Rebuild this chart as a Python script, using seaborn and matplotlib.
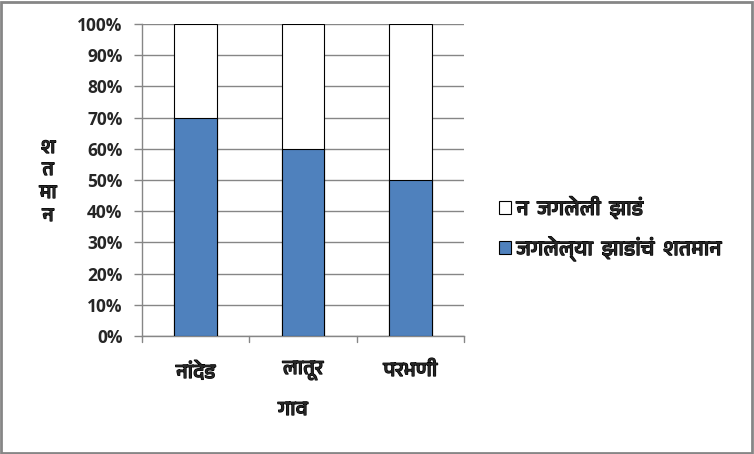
import matplotlib
matplotlib.use("Agg")
import matplotlib.pyplot as plt
import seaborn as sns
import pandas as pd
from matplotlib import font_manager
from matplotlib.patches import Rectangle
import matplotlib.patheffects as pe

# ---- data ----
villages = ["नांदेड", "लातूर", "परभणी"]
survived_pct = [70, 60, 50]
not_survived_pct = [30, 40, 50]
legend_survived = "जगलेल्या  झाडांचं  शतमान"
legend_not = "न  जगलेली  झाडं"
x_title = "गाव"
y_title_chars = ["श", "त", "मा", "न"]
y_ticks = [0, 10, 20, 30, 40, 50, 60, 70, 80, 90, 100]

# ---- find a font with Devanagari glyphs ----
deva_family = None
try:
    from fontTools.ttLib import TTFont
    cands = []
    for f in font_manager.findSystemFonts():
        try:
            tt = TTFont(f, fontNumber=0, lazy=True)
            cmap = tt.getBestCmap() or {}
            if 0x0928 in cmap and 0x091C in cmap:
                name = font_manager.FontProperties(fname=f).get_name()
                cands.append((("Devanagari" not in name), name))
        except Exception:
            pass
    if cands:
        cands.sort()
        deva_family = cands[0][1]
except Exception:
    pass

sns.set_theme(style="white")
fams = ([deva_family] if deva_family else []) + ["DejaVu Sans"]
plt.rcParams["font.family"] = fams
bold_fx = [pe.withStroke(linewidth=0.9, foreground="black")]

df = pd.DataFrame({"village": villages, "survived": survived_pct,
                   "total": [s + n for s, n in zip(survived_pct, not_survived_pct)]})

fig = plt.figure(figsize=(7.54, 4.54), dpi=100)
ax = fig.add_axes([142 / 754, 1 - 336 / 454, (464 - 142) / 754, (336 - 24) / 454])

sns.barplot(data=df, x="village", y="total", color="white", edgecolor="black",
            linewidth=0.8, width=0.4, ax=ax, zorder=3)
sns.barplot(data=df, x="village", y="survived", color="#4F81BD", edgecolor="black",
            linewidth=0.8, width=0.4, ax=ax, zorder=4, saturation=1)

ax.set_ylim(0, 100)
ax.set_xlim(-0.5, 2.5)
ax.set_yticks(y_ticks)
ax.set_yticklabels([f"{t}%" for t in y_ticks], fontsize=12.5, fontweight="bold",
                   family=["Open Sans", "DejaVu Sans"])
ax.set_xticks([0, 1, 2])
ax.set_xticklabels(villages, fontsize=14.5)
for t in ax.get_xticklabels():
    t.set_path_effects(bold_fx)
ax.tick_params(axis="x", length=0, pad=18)
ax.tick_params(axis="y", length=6, color="#868686", width=1, direction="out", left=True, pad=8)
for b in [-0.5, 0.5, 1.5, 2.5]:
    ax.plot([b, b], [0, -2], color="#868686", lw=1, clip_on=False, transform=ax.transData)
ax.grid(axis="y", color="#868686", lw=1, zorder=0)
ax.set_axisbelow(True)
for s in ["top", "right"]:
    ax.spines[s].set_visible(False)
for s in ["left", "bottom"]:
    ax.spines[s].set_color("#868686")
    ax.spines[s].set_linewidth(1)

ax.set_xlabel("")
ax.set_ylabel("")
fig.text(293 / 754, 1 - 410 / 454, x_title, ha="center", va="center", fontsize=14.5,
         path_effects=bold_fx)
for ch, yp in zip(y_title_chars, [148, 170, 193, 216]):
    fig.text(48 / 754, 1 - yp / 454, ch, ha="center", va="center", fontsize=14,
             path_effects=bold_fx)

# legend
handles = [Rectangle((0, 0), 1, 1, facecolor="white", edgecolor="black", lw=0.8),
           Rectangle((0, 0), 1, 1, facecolor="#4F81BD", edgecolor="black", lw=0.8)]
leg = fig.legend(handles, [legend_not, legend_survived], loc="center left",
                 bbox_to_anchor=(480 / 754, 1 - 229 / 454), frameon=False,
                 prop={"size": 15}, handlelength=0.6, handleheight=0.6,
                 handletextpad=0.25, labelspacing=0.85)
for t in leg.get_texts():
    t.set_path_effects(bold_fx)

fig.patches.append(Rectangle((1 / 754, 1 / 454), 751 / 754, 451 / 454, transform=fig.transFigure,
                             fill=False, edgecolor="#868686", lw=2))
fig.savefig("out.png", dpi=100)
